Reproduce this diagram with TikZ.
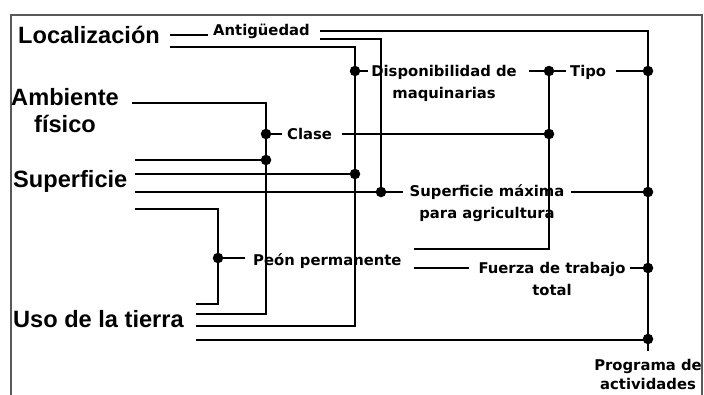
\documentclass[tikz,border=0pt]{standalone}
\usepackage{fontspec}
\setmainfont{DejaVu Sans}
\newfontfamily\bigfont{Liberation Sans}
\usetikzlibrary{calc}
\tikzset{
  big/.style={font=\bigfont\bfseries\fontsize{23.6}{27}\selectfont, inner sep=0pt},
  small/.style={font=\bfseries\fontsize{14.8}{22}\selectfont, inner sep=0pt},
  link/.style={line width=2.1pt, line cap=butt, line join=miter},
  jdot/.style={circle, fill=black, inner sep=0pt, minimum size=10.5pt},
  frame/.style={line width=1.3pt, draw=black!65}
}
\begin{document}
\begin{tikzpicture}[x=1pt,y=-1pt]
\useasboundingbox (0,0) rectangle (704,394);
\draw[frame] (11,400) -- (11,15) -- (702,15) -- (702,400);

% texts
\node[big, anchor=base west] (loc) at (18,43) {Localización};
\node[big, anchor=north, align=center] (amb) at (65,88) {Ambiente\\físico};
\node[big, anchor=base west] (sup) at (13,187) {Superficie};
\node[big, anchor=base west] (uso) at (13,327) {Uso de la tierra};
\node[small, anchor=base west] (ant) at (213,35) {Antigüedad};
\node[small, anchor=base west] (clase) at (287,139) {Clase};
\node[small, anchor=north, align=center] (disp) at (444,65) {Disponibilidad de\\maquinarias};
\node[small, anchor=base west] (tipo) at (570,76) {Tipo};
\node[small, anchor=north, align=center] (supmax) at (487,184) {Superficie máxima\\para agricultura};
\node[small, anchor=base west] (peon) at (253,265) {Peón permanente};
\node[small, anchor=north, align=center] (fuerza) at (552,262) {Fuerza de trabajo\\total};
\node[small, anchor=north, align=center, font=\bfseries\fontsize{14.8}{19.5}\selectfont] (prog) at (648,359) {Programa de\\actividades};

% junction dots
\node[jdot] (dA) at (355,71) {};
\node[jdot] (dB) at (549,71) {};
\node[jdot] (dC) at (648,71) {};
\node[jdot] (dD) at (266,134) {};
\node[jdot] (dE) at (549,134) {};
\node[jdot] (dF) at (266,160) {};
\node[jdot] (dG) at (355,174) {};
\node[jdot] (dH) at (381,192) {};
\node[jdot] (dI) at (648,192) {};
\node[jdot] (dJ) at (218,258) {};
\node[jdot] (dK) at (648,268) {};
\node[jdot] (dL) at (648,339) {};

% connectors
\draw[link] ($(loc.east |- 0,35)+(10,0)$) -- ($(ant.west |- 0,35)+(-5,0)$);
\draw[link] ($(ant.east |- 0,31)+(10,0)$) -- (648,31) -- ($(prog.north)+(0,-8)$);
\draw[link] ($(ant.east |- 0,39)+(10,0)$) -- (381,39) -- (dH.center);
\draw[link] ($(loc.east |- 0,47)+(10,0)$) -- (355,47) -- (355,326) -- ($(uso.east |- 0,326)+(12,0)$);
\draw[link] ($(amb.east |- 0,103)+(13,0)$) -- (266,103) -- (266,314) -- ($(uso.east |- 0,314)+(12,0)$);
\draw[link] (dD.center) -- ($(clase.west |- dD)+(-5,0)$);
\draw[link] ($(clase.east |- dD)+(10,0)$) -- (dE.center);
\draw[link] ($(sup.east |- 0,160)+(7,0)$) -- (dF.center);
\draw[link] ($(sup.east |- 0,174)+(7,0)$) -- (dG.center);
\draw[link] ($(sup.east |- 0,192)+(7,0)$) -- (dH.center);
\draw[link] ($(sup.east |- 0,209)+(7,0)$) -- (218,209) -- (218,304) -- ($(uso.east |- 0,304)+(12,0)$);
\draw[link] (dJ.center) -- ($(peon.west |- dJ)+(-8,0)$);
\draw[link] ($(peon.east |- 0,249)+(12,0)$) -- (549,249) -- (dB.center);
\draw[link] ($(peon.east |- 0,268)+(12,0)$) -- ($(fuerza.west |- 0,268)+(-9,0)$);
\draw[link] ($(fuerza.east |- dK)+(4,0)$) -- (dK.center);
\draw[link] (dA.center) -- ($(disp.west |- dA)+(-3,0)$);
\draw[link] ($(disp.east |- dB)+(12,0)$) -- (dB.center);
\draw[link] (dB.center) -- ($(tipo.west |- dB)+(-4,0)$);
\draw[link] ($(tipo.east |- dC)+(10,0)$) -- (dC.center);
\draw[link] (dH.center) -- ($(supmax.west |- dH)+(-7,0)$);
\draw[link] ($(supmax.east |- dI)+(7,0)$) -- (dI.center);
\draw[link] ($(uso.east |- 0,340)+(12,0)$) -- (648,340) -- (dL.center);
\end{tikzpicture}
\end{document}
